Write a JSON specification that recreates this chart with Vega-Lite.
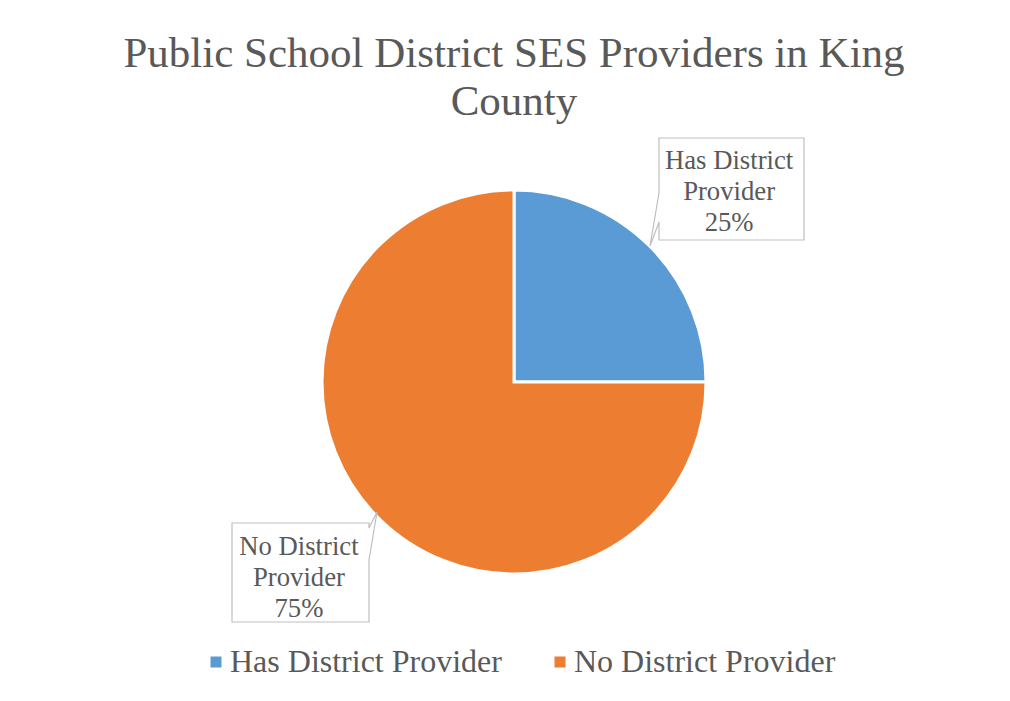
{
  "$schema": "https://vega.github.io/schema/vega-lite/v6.json",
  "width": 600,
  "height": 480,
  "autosize": {"type": "none"},
  "padding": {"left": 214, "top": 142, "right": 196, "bottom": 79},
  "background": "white",
  "config": {"view": {"stroke": null}, "font": "Liberation Serif"},
  "title": {
    "text": ["Public School District SES Providers in King", "County"],
    "font": "Liberation Serif",
    "fontSize": 43,
    "fontWeight": "normal",
    "color": "#595959",
    "anchor": "middle",
    "frame": "group",
    "lineHeight": 48,
    "offset": 12
  },
  "data": {
    "values": [
      {"category": "Has District Provider", "value": 25},
      {"category": "No District Provider", "value": 75}
    ]
  },
  "transform": [
    {"joinaggregate": [{"op": "sum", "field": "value", "as": "total"}]},
    {"calculate": "[substring(datum.category, 0, lastindexof(datum.category, ' ')), substring(datum.category, lastindexof(datum.category, ' ') + 1), format(datum.value / datum.total, '.0%')]", "as": "label"},
    {"calculate": "'callout ' + datum.category", "as": "callout"}
  ],
  "layer": [
    {
      "mark": {"type": "arc", "radius": 192, "stroke": "white", "strokeWidth": 3},
      "encoding": {
        "theta": {"field": "value", "type": "quantitative", "stack": true},
        "color": {
          "field": "category",
          "type": "nominal",
          "scale": {"domain": ["Has District Provider", "No District Provider"], "range": ["#5B9BD5", "#ED7D31"]},
          "legend": {
            "orient": "none",
            "legendX": -14,
            "legendY": 504,
            "direction": "horizontal",
            "title": null,
            "symbolType": "square",
            "symbolSize": 121,
            "symbolStrokeWidth": 0,
            "labelFont": "Liberation Serif",
            "labelFontSize": 32,
            "labelColor": "#595959",
            "labelOffset": -2,
            "columnPadding": 42,
            "labelLimit": 0
          }
        }
      }
    },
    {
      "mark": {"type": "point", "size": 4, "filled": true, "fill": "white", "stroke": "#bfbfbf", "strokeWidth": 1.2, "opacity": 1},
      "encoding": {
        "shape": {
          "field": "callout",
          "type": "nominal",
          "scale": {
            "domain": ["callout Has District Provider", "callout No District Provider"],
            "range": [
              "M145,-244 L290,-244 L290,-142 L145,-142 L145,-160 L136,-136 L145,-189 Z",
              "M-282,141 L-145,141 L-145,146 L-137,130 L-145,178 L-145,240 L-282,240 Z"
            ]
          },
          "legend": null
        }
      }
    },
    {
      "mark": {
        "type": "text",
        "radius": 289,
        "thetaOffset": 0.054,
        "dy": -28,
        "font": "Liberation Serif",
        "fontSize": 26.7,
        "color": "#595959",
        "lineHeight": 31,
        "align": "center",
        "baseline": "middle"
      },
      "encoding": {
        "theta": {"field": "value", "type": "quantitative", "stack": true},
        "detail": {"field": "category", "type": "nominal"},
        "text": {"field": "label"}
      }
    }
  ]
}
